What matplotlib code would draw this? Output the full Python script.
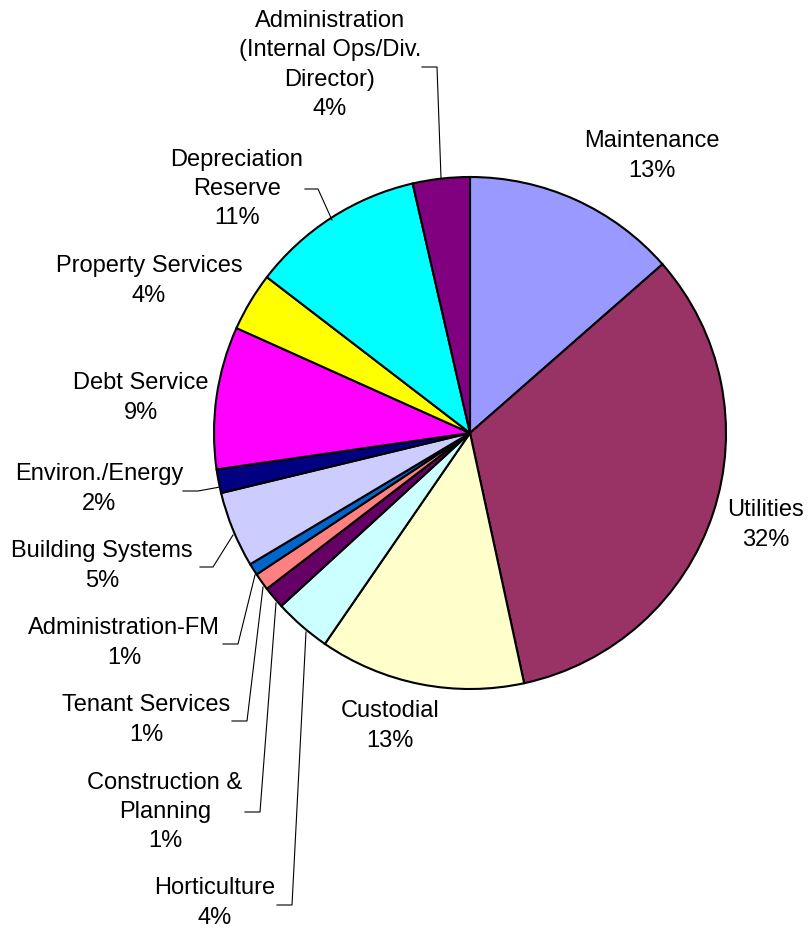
import matplotlib
matplotlib.use('Agg')
import matplotlib.pyplot as plt

# slice shares (clockwise from 12 o'clock)
categories = ['Maintenance', 'Utilities', 'Custodial', 'Horticulture',
              'Construction &\nPlanning', 'Tenant Services', 'Administration-FM',
              'Building Systems', 'Environ./Energy', 'Debt Service',
              'Property Services', 'Depreciation\nReserve',
              'Administration\n(Internal Ops/Div.\nDirector)']
values = [13.56, 33.1, 13.0, 3.6, 1.4, 1.1, 0.75, 4.8, 1.5, 9.0, 3.7, 11.0, 3.6]
pct_labels = ['13%', '32%', '13%', '4%', '1%', '1%', '1%', '5%', '2%', '9%', '4%', '11%', '4%']
colors = ['#9999FF', '#993366', '#FFFFCC', '#CCFFFF', '#660066', '#FF8080', '#0066CC',
          '#CCCCFF', '#000080', '#FF00FF', '#FFFF00', '#00FFFF', '#800080']

W, H = 809, 932

# label centres in pixels (x, y from top)
label_pos = [(652, 156), (766, 525), (390, 726), (215, 903), (165, 812), (146, 720),
             (124, 643), (102, 566), (99, 489), (141, 398), (149, 281), (237, 189),
             (330, 65)]

# leader lines in pixels, None where the label sits without one
leaders = [None, None, None,
           [(277, 905), (292, 905), (306, 632)],
           [(245, 812), (260, 812), (276, 603)],
           [(232, 721), (247, 721), (263, 587)],
           [(223, 644), (238, 644), (255, 575)],
           [(200, 567), (213, 567), (233, 535)],
           [(183, 491), (198, 491), (220, 487)],
           None, None,
           [(305, 189), (318, 189), (332, 220)],
           [(422, 67), (437, 67), (441, 178)]]


def flip(y):
    return H - y


fig = plt.figure(figsize=(W / 100, H / 100), dpi=100)
ax = fig.add_axes([0, 0, 1, 1])

ax.pie(values, colors=colors, startangle=90, counterclock=False,
       center=(470, flip(433)), radius=256,
       wedgeprops={'edgecolor': 'black', 'linewidth': 1.5})

for name, pct, (x, y) in zip(categories, pct_labels, label_pos):
    ax.text(x, flip(y), name + '\n' + pct, ha='center', va='center',
            fontsize=17, family='Liberation Sans', linespacing=1.42)

for line in leaders:
    if line is None:
        continue
    xs = [p[0] for p in line]
    ys = [flip(p[1]) for p in line]
    ax.plot(xs, ys, color='black', linewidth=0.8)

ax.set_xlim(0, W)
ax.set_ylim(0, H)
ax.set_aspect('equal')
ax.axis('off')

fig.savefig('out.png', dpi=100)
